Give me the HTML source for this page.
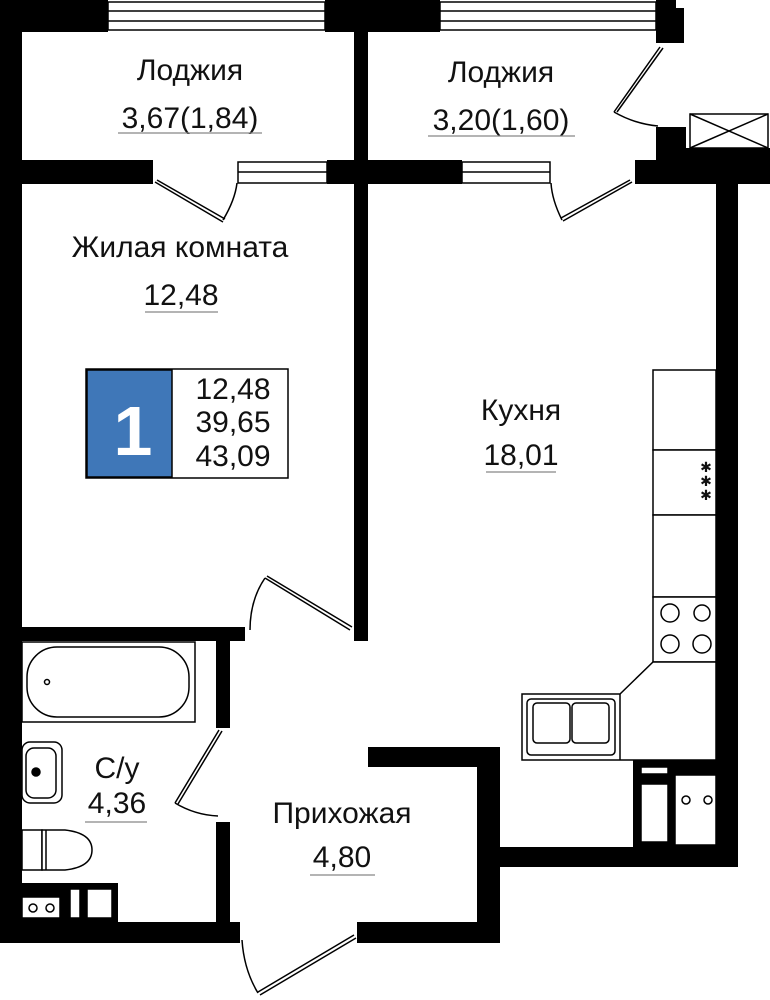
<!DOCTYPE html>
<html><head><meta charset="utf-8"><style>
html,body{margin:0;padding:0;background:#fff;}
svg{display:block;}
text{font-family:"Liberation Sans",sans-serif;fill:#111;}
</style></head><body>
<svg width="770" height="1000" viewBox="0 0 770 1000" xmlns="http://www.w3.org/2000/svg">
<g fill="#000">
<rect x="0" y="0" width="22" height="943"/>
<rect x="0" y="0" width="108" height="32"/>
<rect x="325" y="0" width="115" height="32"/>
<rect x="656" y="0" width="20" height="43"/>
<rect x="676" y="8" width="8" height="35"/>
<rect x="354" y="32" width="14" height="609"/>
<rect x="0" y="160" width="153" height="24"/>
<rect x="327" y="160" width="135" height="24"/>
<rect x="656" y="127" width="30" height="33"/>
<rect x="676" y="148" width="94" height="12"/>
<rect x="635" y="160" width="135" height="24"/>
<rect x="716" y="184" width="22" height="683"/>
<rect x="490" y="847" width="248" height="20"/>
<rect x="22" y="627" width="223" height="14"/>
<rect x="216" y="641" width="14" height="87"/>
<rect x="216" y="822" width="14" height="100"/>
<rect x="0" y="922" width="240" height="21"/>
<rect x="368" y="747" width="132" height="20"/>
<rect x="477" y="747" width="23" height="196"/>
<rect x="357" y="922" width="143" height="21"/>
<rect x="22" y="883" width="96" height="39"/>
<rect x="633" y="760" width="83" height="87"/>
</g>
<g fill="#fff" stroke="#000" stroke-width="1.5">
<rect x="108" y="2" width="217" height="28"/>
<line x1="108" y1="11" x2="325" y2="11"/><line x1="108" y1="21" x2="325" y2="21"/>
<rect x="440" y="2" width="216" height="28"/>
<line x1="440" y1="11" x2="656" y2="11"/><line x1="440" y1="21" x2="656" y2="21"/>
<rect x="238" y="162" width="89" height="21"/>
<line x1="238" y1="172" x2="327" y2="172"/>
<rect x="462" y="162" width="88" height="21"/>
<line x1="462" y1="172" x2="550" y2="172"/>
<rect x="690" y="114" width="78" height="34"/>
<line x1="690" y1="114" x2="768" y2="148"/><line x1="768" y1="114" x2="690" y2="148"/>
<rect x="653" y="370" width="63" height="80"/>
<rect x="653" y="450" width="63" height="65"/>
<rect x="653" y="515" width="63" height="82"/>
<rect x="653" y="597" width="63" height="65"/>
<path d="M653 662 L716 662 L716 760 L522 760 L522 694 L620 694 Z"/>
<line x1="620" y1="694" x2="620" y2="760"/>
<rect x="527" y="699" width="88" height="56" rx="4"/>
<rect x="533" y="703" width="37" height="40" rx="4"/>
<rect x="572" y="703" width="37" height="40" rx="4"/>
<circle cx="670" cy="613" r="9"/><circle cx="702" cy="613" r="8"/>
<circle cx="670" cy="644" r="9"/><circle cx="702" cy="644" r="9"/>
<rect x="641" y="767" width="27" height="7"/>
<rect x="641" y="784" width="27" height="58"/>
<rect x="675" y="775" width="41" height="70"/>
<circle cx="686" cy="800" r="4"/><circle cx="708" cy="800" r="4"/>
<rect x="22" y="642" width="173" height="80"/>
<rect x="27" y="647" width="162" height="70" rx="30"/>
<circle cx="47" cy="682" r="2.5"/>
<rect x="22" y="742" width="40" height="61" rx="8"/>
<rect x="26" y="748" width="30" height="50" rx="8"/>
<circle cx="36" cy="772" r="4" fill="#000"/>
<rect x="22" y="830" width="20" height="40"/>
<path d="M42 830 L65 830 Q92 833 92 850 Q92 867 65 870 L42 870 Z"/>
<line x1="46" y1="830" x2="46" y2="870"/>
<rect x="22" y="897" width="38" height="21"/>
<circle cx="33" cy="908" r="4"/><circle cx="50" cy="908" r="4"/>
<rect x="70" y="889" width="10" height="29"/>
<rect x="87" y="889" width="25" height="29"/>
<rect x="86" y="369" width="202" height="109"/>
</g>
<rect x="87" y="370" width="85" height="107" fill="#3f77b8" stroke="#000" stroke-width="1.5"/>
<g fill="none" stroke="#000" stroke-width="1.5">
<path d="M155 182 L223 222 M157 180 L225 219"/>
<path d="M223 220 Q235 200 237 183"/>
<path d="M632 182 L563 221 M630 180 L561 218"/>
<path d="M562 220 Q552 200 551 183"/>
<path d="M660 47 L614 112 M663 48 L617 112"/>
<path d="M614 112 Q635 124 658 126"/>
<path d="M350 630 L265 578 M352 627 L267 576"/>
<path d="M265 578 Q250 600 250 630"/>
<path d="M219 730 L175 803 M222 731 L178 804"/>
<path d="M175 803 Q195 815 218 816"/>
<path d="M354 935 L258 992 M356 938 L260 995"/>
<path d="M258 993 Q244 970 242 940"/>
<path d="M22 928 L0 935 M22 935 L0 942" stroke-width="0.7"/>
</g>
<g font-size="30" text-anchor="middle">
<text x="190" y="80">Лоджия</text>
<text x="190" y="128">3,67(1,84)</text>
<text x="501" y="82">Лоджия</text>
<text x="501" y="130">3,20(1,60)</text>
<text x="180" y="257">Жилая комната</text>
<text x="181" y="305">12,48</text>
<text x="521" y="420">Кухня</text>
<text x="521" y="465">18,01</text>
<text x="117" y="778">С/у</text>
<text x="117" y="813">4,36</text>
<text x="342" y="823">Прихожая</text>
<text x="342" y="867">4,80</text>
<text x="233" y="399">12,48</text>
<text x="233" y="432">39,65</text>
<text x="233" y="466">43,09</text>
</g>
<text x="133" y="455" font-size="70" font-weight="bold" text-anchor="middle" style="fill:#fff">1</text>
<g font-size="14" text-anchor="middle"><text x="706" y="472">✱</text><text x="706" y="486">✱</text><text x="706" y="500">✱</text></g>
<g stroke="#888" stroke-width="1.2">
<line x1="118" y1="133" x2="262" y2="133"/>
<line x1="428" y1="136" x2="575" y2="136"/>
<line x1="145" y1="312" x2="218" y2="312"/>
<line x1="486" y1="472" x2="556" y2="472"/>
<line x1="85" y1="822" x2="147" y2="822"/>
<line x1="310" y1="875" x2="375" y2="875"/>
</g>
</svg>
</body></html>
